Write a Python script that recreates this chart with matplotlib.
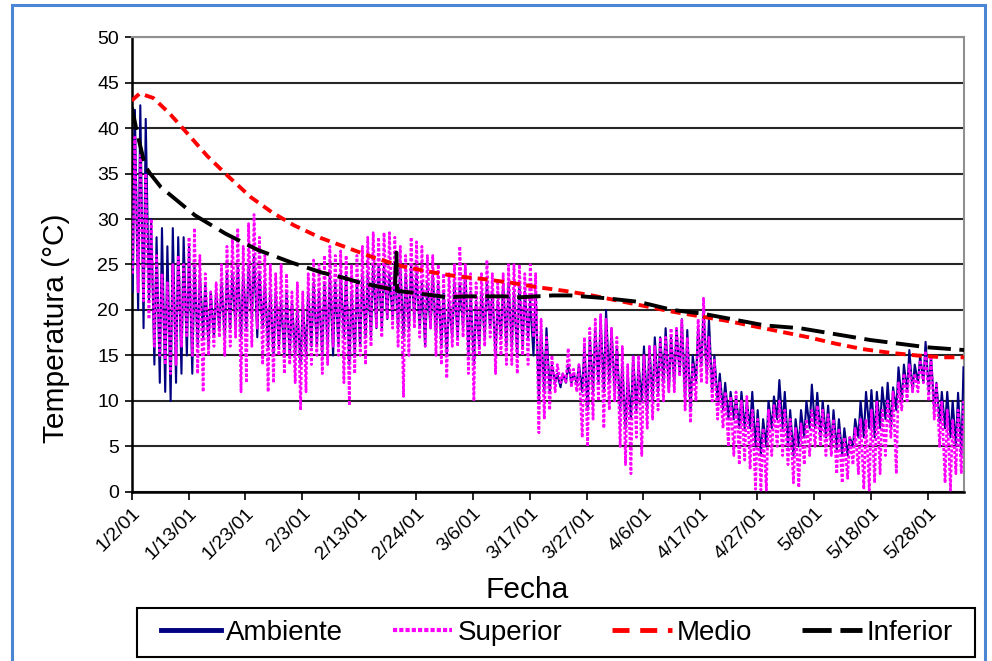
import matplotlib
matplotlib.use('Agg')
import matplotlib.pyplot as plt
from matplotlib.patches import Rectangle
from matplotlib.lines import Line2D
import numpy as np

plt.rcParams['font.family'] = ['Liberation Sans', 'DejaVu Sans']

# etiquetas del eje x (una cada 10.5 dias)
fechas = ['1/2/01', '1/13/01', '1/23/01', '2/3/01', '2/13/01', '2/24/01', '3/6/01',
          '3/17/01', '3/27/01', '4/6/01', '4/17/01', '4/27/01', '5/8/01', '5/18/01',
          '5/28/01']

# Ambiente: maximo y minimo diario
amb_hi = [42, 42.5, 41, 30, 28, 29, 27, 29, 28, 28,
          27, 25, 24, 23, 22, 22, 23, 24, 24, 25,
          24, 25, 26, 24, 23, 22, 22, 21, 22, 21,
          20, 21, 22, 23, 22, 23, 24, 23, 24, 24,
          22, 23, 24, 24, 25, 25, 25, 24, 25, 25,
          24, 25, 24, 23, 23, 24, 23, 22, 21, 23,
          23, 24.7, 22, 21, 22, 23, 22, 21, 23, 23,
          22, 23, 22, 21, 22, 18, 18, 14, 13, 13,
          14, 13, 14, 16, 17, 18, 19, 20, 18, 16,
          14, 13, 15, 14, 16, 16, 17, 17, 18, 17,
          18, 19, 17.8, 15, 18, 20, 19, 15, 13, 12,
          11, 10.5, 11, 10, 11, 9, 8, 10, 10.5, 12.3,
          11, 9, 8, 9, 10, 11.8, 10.9, 10, 9.5, 9,
          8, 7, 6, 8, 10, 11, 11.2, 11, 11.5, 12,
          11.5, 13.7, 14, 15.6, 14, 15, 16.5, 15, 12, 11,
          11, 10, 10.9, 13.7]
amb_lo = [22, 20, 18, 21, 14, 12, 11, 10, 12, 13,
          15, 13, 16, 17, 16, 17, 18, 17, 18, 18,
          17, 18, 19, 17, 18, 16, 15, 16, 15, 15,
          15, 14, 15, 16, 16, 15, 16, 15, 16, 17,
          14, 15, 16, 17, 17, 18, 18, 19, 19, 18,
          17, 18, 19, 18, 16, 18, 17, 16, 15, 17,
          17, 18, 15, 14, 16, 17, 18, 15, 17, 16,
          16, 15, 16, 17, 15, 10, 11, 11, 12, 11.5,
          12, 12, 12, 11, 9, 11, 12, 11, 12, 11,
          9, 7, 8, 9, 10, 9, 10, 11, 12, 11,
          12, 13, 10, 9, 12, 14, 13, 11, 10, 9,
          8, 8, 7, 7, 7, 5, 4, 5, 7, 8,
          7, 5, 4, 5, 6, 7, 7, 6, 6, 5,
          4.6, 4, 4, 5, 6, 6, 7, 6, 7, 8,
          7, 9, 10, 11, 11, 12, 12, 11, 9, 7.6,
          7, 6, 5, 4]

# Superior: maximo y minimo diario
sup_hi = [39, 37, 35, 30, 26, 24, 23, 25, 26, 25,
          28, 29, 26, 24, 22, 23, 25, 27, 28, 29,
          27, 29.5, 30.5, 28, 26, 25, 24, 25, 24, 22,
          23, 22, 24, 25.5, 25, 26, 27, 26, 26.5, 26,
          25, 26, 27, 28, 28.5, 28, 28.5, 28.5, 28, 27,
          26, 28, 27.5, 27, 26, 26, 25, 24, 24, 25,
          27, 25, 24, 23, 24, 25.5, 24, 23, 24, 25,
          25, 25, 24, 25, 24, 19, 17, 15, 14, 13,
          15.8, 13.5, 14, 17, 18, 19, 19.5, 19, 18, 17,
          16, 14, 15, 15, 15, 16, 16, 17, 17, 18,
          18, 18.9, 17, 14, 19, 21.3, 17, 14.5, 12, 11,
          10.5, 11, 10, 10.5, 9, 8, 7, 9, 9.5, 10,
          9, 8, 7, 7.5, 8, 9, 9.5, 9, 8.5, 8,
          7, 6, 6, 7, 8, 8, 9, 10, 9, 10,
          11, 12, 13, 14, 13, 14.5, 15.5, 15, 12, 10,
          9, 8, 9, 10]
sup_lo = [24, 22, 21, 19, 16, 15, 14, 13, 14, 16,
          17, 15, 13, 11, 15, 16, 17, 15, 16, 17,
          11, 12, 16, 18, 14, 11, 12, 15, 13, 14,
          12, 9, 11, 14, 15, 13, 14, 16, 15, 12,
          9.5, 13, 15, 14, 16, 18, 17, 19, 18, 16,
          10.5, 15, 18, 17, 16, 18, 15, 14, 12.5, 16,
          16, 17, 13, 10, 15, 16, 17, 13, 15, 14,
          14, 13, 15, 14, 17, 6.5, 8, 9, 11, 12,
          12, 11.5, 11, 6, 5, 8, 10, 7, 9, 10,
          5, 3, 2, 6, 4, 7, 8, 9, 10, 11,
          11, 12.7, 9, 7.6, 10, 12, 12, 10, 8, 7,
          5, 4, 3, 3.5, 2.5, 0.3, 0.2, 0.2, 4, 5,
          4, 3, 1, 0.5, 3, 4, 5, 5, 4, 4,
          2, 1, 1.5, 3, 2, 0.3, 0.2, 1, 2, 4,
          6, 2, 9, 10, 11, 11, 12, 10, 8, 5,
          1, 0.2, 2, 2]

# Medio (curva suave)
medio_dia = [0, 1.5, 4, 7, 10, 14, 18, 22, 26, 30, 35, 40, 45, 50, 55, 60, 65, 70,
             75, 80, 85, 90, 95, 100, 105, 110, 115, 120, 125, 130, 135, 140, 145,
             150, 153.7]
medio_val = [43.0, 43.8, 43.3, 41.6, 39.6, 36.9, 34.6, 32.4, 30.7, 29.3, 27.9, 26.8,
             25.7, 24.8, 24.2, 23.7, 23.4, 23.0, 22.5, 22.1, 21.6, 21.0, 20.4, 19.8,
             19.3, 18.8, 18.2, 17.6, 17.0, 16.3, 15.7, 15.3, 15.0, 14.8, 14.8]

# Inferior
inf_dia = [0, 1, 2.5, 3.4, 5.4, 11.7, 17.3, 23.3, 29.6, 35.2, 39.4, 42.2, 48.6, 48.9,
           49.0, 51.9, 58.4, 61.6, 68.9, 71.7, 77.8, 81, 87.5, 93.6, 99.9, 105.4,
           117, 123.4, 136.4, 146.9, 153.7]
inf_val = [42.3, 39.5, 35.8, 35.0, 33.5, 30.4, 28.4, 26.6, 25.2, 24.1, 23.5, 23.0,
           22.2, 26.3, 22.1, 21.9, 21.4, 21.5, 21.5, 21.4, 21.6, 21.6, 21.3, 20.9,
           20.0, 19.6, 18.3, 18.0, 16.7, 15.9, 15.6]

dias = np.arange(len(amb_hi))
x_diario = np.column_stack([dias + 0.2, dias + 0.6]).ravel()
y_amb = np.column_stack([amb_lo, amb_hi]).ravel()
y_sup = np.column_stack([sup_lo, sup_hi]).ravel()

fig = plt.figure(figsize=(9.92, 6.61), dpi=100)
ax = fig.add_axes([0.1327, 0.2557, 0.8391, 0.6883])

ax.plot(x_diario, y_amb, color='#000080', lw=1.5, zorder=3)
ax.plot(x_diario, y_sup, color='#ff00ff', lw=1.9, ls=(0, (1.2, 0.7)), zorder=4)
ax.plot(medio_dia, medio_val, color='#ff0000', lw=2.8, ls=(0, (2.6, 1.6)), zorder=5)
ax.plot(inf_dia, inf_val, color='black', lw=2.8, ls=(0, (6, 2.2)), zorder=6)

ax.set_xlim(0, 153.7)
ax.set_ylim(0, 50)
ax.set_yticks(range(0, 51, 5))
ax.set_xticks(np.arange(len(fechas)) * 10.5)
ax.set_xticklabels(fechas, rotation=45, ha='right', rotation_mode='anchor')
ax.tick_params(axis='y', labelsize=14, length=5, width=1.2, pad=4)
ax.tick_params(axis='x', labelsize=14, length=6, width=1.2, pad=3)

ax.yaxis.grid(True, color='#262626', lw=1.5)
ax.set_axisbelow(True)
for s in ['top', 'right']:
    ax.spines[s].set_color('#909090')
    ax.spines[s].set_linewidth(1.5)
for s in ['left', 'bottom']:
    ax.spines[s].set_color('black')
    ax.spines[s].set_linewidth(1.8)

ax.set_ylabel('Temperatura (°C)', fontsize=21.5)
ax.yaxis.set_label_coords(-0.074, 0.36)
ax.set_xlabel('Fecha', fontsize=21.5)
ax.xaxis.set_label_coords(0.475, -0.215)
ax.xaxis.label.set_va('center')

# leyenda sin marco + recuadro aparte
handles = [Line2D([], [], color='#000080', lw=3.5),
           Line2D([], [], color='#ff00ff', lw=3, ls=(0, (1.0, 0.5))),
           Line2D([], [], color='#ff0000', lw=3.5, ls=(0, (3.5, 2.2))),
           Line2D([], [], color='black', lw=3.5, ls=(0, (6, 1.8)))]
fig.legend(handles, ['Ambiente', 'Superior', 'Medio', 'Inferior'], ncol=4,
           loc='center', bbox_to_anchor=(0.5615, 1 - 632.5 / 661),
           fontsize=20, frameon=False, handlelength=2.15, handletextpad=0.18,
           columnspacing=1.8, borderaxespad=0, borderpad=0)
fig.patches.append(Rectangle((137 / 992, 1 - 657 / 661), 838 / 992, 49 / 661,
                             transform=fig.transFigure, fill=False,
                             edgecolor='black', lw=1.5))

# marco azul alrededor de la figura
fig.patches.append(Rectangle((12 / 992, -0.01), 973 / 992, 1.0024, transform=fig.transFigure,
                             fill=False, edgecolor='#4a86d4', lw=2.2))

fig.savefig('out.png', dpi=100)
